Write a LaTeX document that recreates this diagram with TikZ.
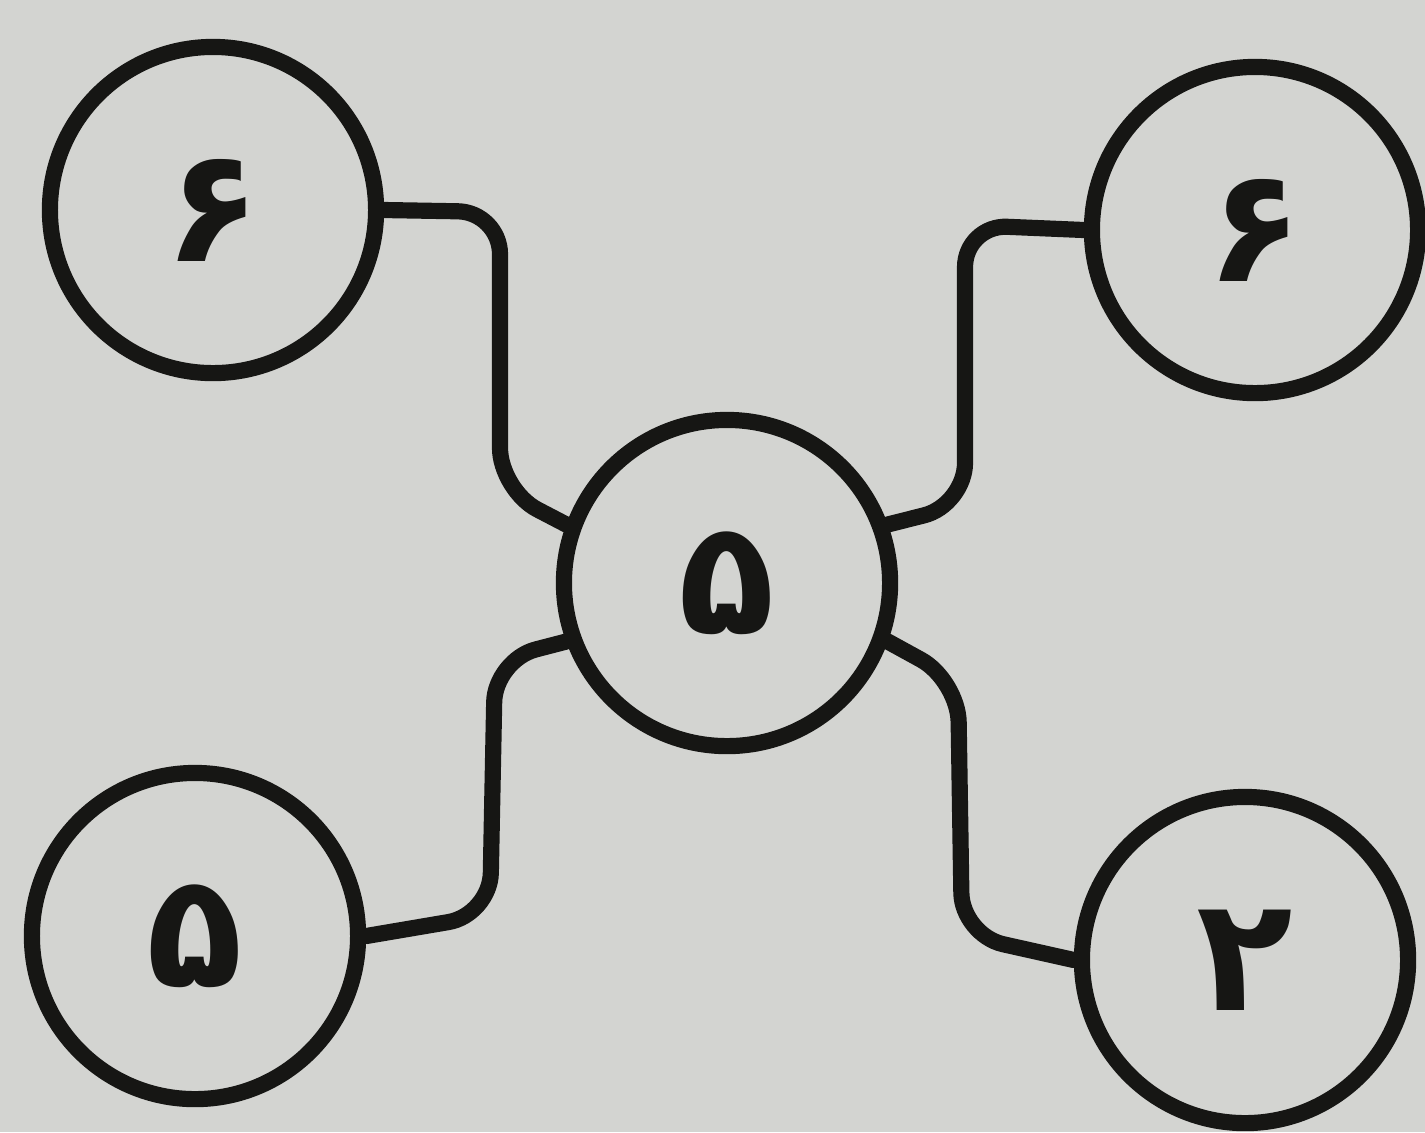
\documentclass[tikz,border=0pt]{standalone}
\usepackage{fontspec}
\newfontfamily\arabicfont[Script=Arabic]{DejaVu Sans}
\TeXXeTstate=1
\definecolor{bg}{RGB}{211,212,209}
\definecolor{ink}{RGB}{22,22,20}
\begin{document}
\begin{tikzpicture}[x=0.01cm,y=-0.01cm,
  num/.style={circle,draw=ink,line width=4.6pt,minimum size=3.26cm,inner sep=0pt,
    font=\arabicfont\bfseries\fontsize{45}{45}\selectfont,text=ink},
  conn/.style={draw=ink,line width=4.6pt,rounded corners=12pt,line cap=round}]
\fill[bg] (0,0) rectangle (1425,1132);
\useasboundingbox (0,0) rectangle (1425,1132);
\node[num] (tl) at (213,210) {\beginR ۶\endR};
\node[num] (tr) at (1255,230) {\beginR ۶\endR};
\node[num] (c) at (727,583) {\beginR ۵\endR};
\node[num] (bl) at (195,936) {\beginR ۵\endR};
\node[num] (br) at (1245,960) {\beginR ۲\endR};
\draw[conn] (tl.east) -- (500,212) -- (500,490) -- (c.160);
\draw[conn] (tr.west) -- (965,225) -- (965,505) -- (c.20);
\draw[conn] (c.200) -- (495,660) -- (490,915) -- (bl.east);
\draw[conn] (c.340) -- (958,680) -- (962,935) -- (br.west);
\end{tikzpicture}
\end{document}
